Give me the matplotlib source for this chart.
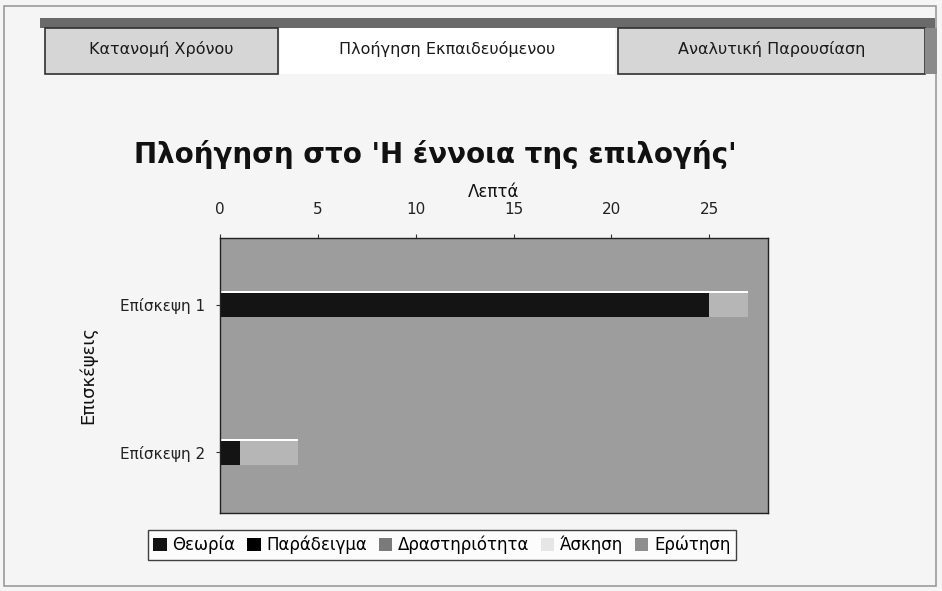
import matplotlib.pyplot as plt
from matplotlib.patches import Rectangle, Patch
import numpy as np

# data
visits = ['Επίσκεψη 1', 'Επίσκεψη 2']
categories = ['Θεωρία', 'Παράδειγμα', 'Δραστηριότητα', 'Άσκηση', 'Ερώτηση']
theoria = [25, 1]
paradeigma = [0, 0]
drastiriotita = [0, 0]
askisi = [2, 3]
erotisi = [0, 0]
x_ticks = [0, 5, 10, 15, 20, 25]
tabs = ['Κατανομή Χρόνου', 'Πλοήγηση Εκπαιδευόμενου', 'Αναλυτική Παρουσίαση']

colors = ['#141414', '#000000', '#7a7a7a', '#e6e6e6', '#8e8e8e']
W, H = 942, 591


def px(x, y):
    return x / W, 1 - y / H


fig = plt.figure(figsize=(W / 100, H / 100), dpi=100)
fig.patch.set_facecolor('#f5f5f5')

# page frame and tab strip
fig.patches.append(Rectangle(px(4, 586), 932 / W, 580 / H, transform=fig.transFigure,
                             fill=False, edgecolor='#9a9a9a', linewidth=1.2))
fig.patches.append(Rectangle(px(40, 28), 895 / W, 10 / H, transform=fig.transFigure,
                             facecolor='#6a6a6a', edgecolor='none'))
tab_boxes = [(45, 278, '#d6d6d6'), (280, 615, '#ffffff'), (618, 925, '#d6d6d6')]
for (x0, x1, fc), name in zip(tab_boxes, tabs):
    fig.patches.append(Rectangle(px(x0, 74), (x1 - x0) / W, 46 / H, transform=fig.transFigure,
                                 facecolor=fc, edgecolor='#303030' if fc != '#ffffff' else 'none',
                                 linewidth=1.2))
    fig.text(*px((x0 + x1) / 2, 49), name, ha='center', va='center', fontsize=11.5,
             color='#1a1a1a')
fig.patches.append(Rectangle(px(925, 74), 12 / W, 46 / H, transform=fig.transFigure,
                             facecolor='#8a8a8a', edgecolor='none'))

# title
fig.text(*px(435, 155), "Πλοήγηση στο 'Η έννοια της επιλογής'", ha='center', va='center',
         fontsize=20, fontweight='bold', color='#111111')

# chart
ax = fig.add_axes([220 / W, (H - 513) / H, 548 / W, 275 / H])
ax.set_facecolor('#9d9d9d')

y = np.arange(len(visits))
series = [theoria, paradeigma, drastiriotita, askisi, erotisi]
left = np.zeros(len(visits))
bar_h = 0.17
for vals, col, name in zip(series, colors, categories):
    vals = np.array(vals, dtype=float)
    if name == 'Άσκηση':
        ax.barh(y, vals, left=left, height=bar_h, color=col, alpha=0.35, edgecolor='none')
        ax.barh(y - bar_h / 2, left + vals, left=0, height=0.012, color='white', edgecolor='none')
    else:
        ax.barh(y, vals, left=left, height=bar_h, color=col, edgecolor='none')
    left += vals

ax.set_xlim(0, 28)
ax.set_ylim(1.41, -0.45)
ax.xaxis.tick_top()
ax.xaxis.set_label_position('top')
ax.set_xticks(x_ticks)
ax.set_xticklabels([str(t) for t in x_ticks], fontsize=11, color='#222222')
ax.set_xlabel('Λεπτά', fontsize=12, color='#111111', labelpad=4)
ax.set_yticks(y)
ax.set_yticklabels(visits, fontsize=11, color='#222222')
ax.set_ylabel('Επισκέψεις', fontsize=13, color='#111111', labelpad=16)
ax.tick_params(axis='x', length=3, color='#333333', pad=12)
ax.tick_params(axis='y', length=3, color='#333333', pad=8)
for s in ax.spines.values():
    s.set_color('#222222')
    s.set_linewidth(1.0)

handles = [Patch(facecolor=c, edgecolor='none') for c in colors]
leg = fig.legend(handles, categories, loc='center', bbox_to_anchor=px(442, 545), ncol=5,
                 fontsize=12, frameon=True, fancybox=False, handlelength=0.8,
                 handleheight=0.8, handletextpad=0.35, columnspacing=0.7,
                 borderpad=0.35, edgecolor='#111111')
leg.get_frame().set_linewidth(1.0)
leg.get_frame().set_facecolor('white')

fig.savefig('out.png', dpi=100, facecolor=fig.get_facecolor())
